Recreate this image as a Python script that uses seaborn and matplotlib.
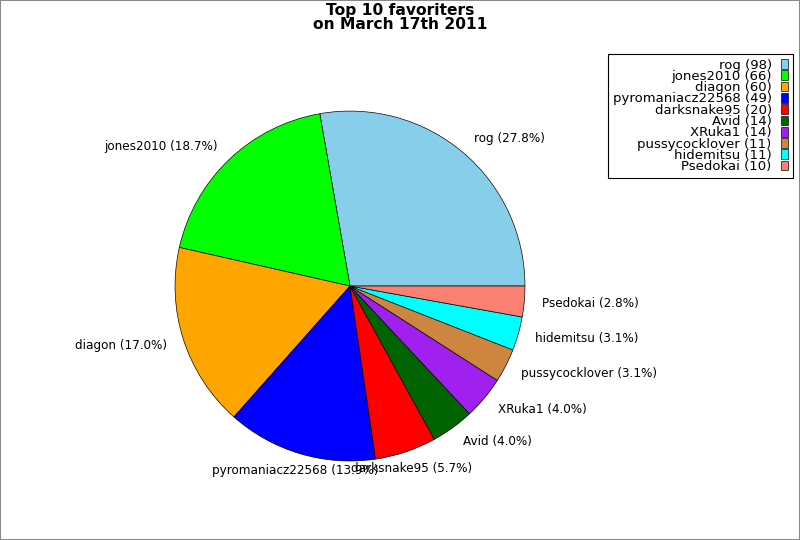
import matplotlib
matplotlib.use("Agg")
import matplotlib.pyplot as plt
import seaborn as sns

names = ["rog", "jones2010", "diagon", "pyromaniacz22568", "darksnake95",
         "Avid", "XRuka1", "pussycocklover", "hidemitsu", "Psedokai"]
counts = [98, 66, 60, 49, 20, 14, 14, 11, 11, 10]
colors = ["#87CEEB", "#00FF00", "#FFA500", "#0000FF", "#FF0000",
          "#006400", "#A020F0", "#CD853F", "#00FFFF", "#FA8072"]
title = "Top 10 favoriters\non March 17th 2011"

sns.set_style("white")
plt.rcParams['font.family'] = ['DejaVu Sans']
plt.rcParams['text.color'] = 'black'

fig = plt.figure(figsize=(10, 6.75), dpi=80)
fig.patch.set_facecolor("white")
fig.patch.set_edgecolor("#888888")
fig.patch.set_linewidth(1.5)

ax = fig.add_axes([0.164, 0.0653, 0.547, 0.810])
total = sum(counts)
labels = [f"{n} ({c / total * 100:.1f}%)" for n, c in zip(names, counts)]
wedges, texts = ax.pie(counts, labels=labels, colors=colors, startangle=0,
                       counterclock=True, labeldistance=1.1,
                       wedgeprops=dict(edgecolor="black", linewidth=0.6),
                       textprops=dict(fontsize=10.8, color="black"))
ax.set_aspect("equal")
for t in texts:
    x, _ = t.get_position()
    if abs(x) < 0.44:
        t.set_ha("center")

fig.suptitle(title, fontsize=14, fontweight="bold", y=0.995, va="top",
             linespacing=0.95)

leg = fig.legend(wedges, [f"{n} ({c})" for n, c in zip(names, counts)],
                 loc="upper right", bbox_to_anchor=(0.991, 0.9),
                 markerfirst=False, fontsize=11.9, frameon=True,
                 fancybox=False, edgecolor="black", framealpha=1,
                 labelspacing=-0.13, handlelength=0.55, handleheight=0.75,
                 handletextpad=0.7, borderpad=0.35, borderaxespad=0)
for t in leg.get_texts():
    t.set_ha("right")
    t.set_color("black")
leg.get_frame().set_linewidth(1.0)

fig.savefig("out.png", dpi=80, facecolor=fig.get_facecolor(),
            edgecolor=fig.get_edgecolor())
